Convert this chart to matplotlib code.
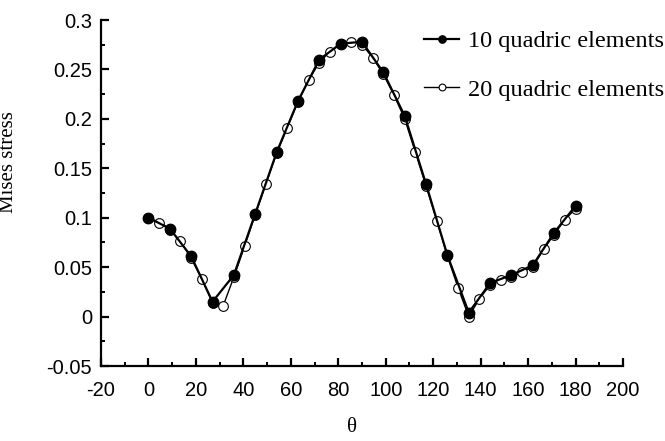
import matplotlib
matplotlib.use('Agg')
import matplotlib.pyplot as plt
from matplotlib.ticker import MultipleLocator

# ── Data ──────────────────────────────────────────────────────────────────────
theta_10 = [0, 9, 18, 27, 36, 45, 54, 63, 72, 81, 90,
            99, 108, 117, 126, 135, 144, 153, 162, 171, 180]
stress_10 = [0.100, 0.089, 0.061, 0.015, 0.042, 0.104, 0.166, 0.218, 0.260, 0.276, 0.278,
             0.247, 0.203, 0.134, 0.062, 0.004, 0.034, 0.042, 0.052, 0.085, 0.112]

theta_20 = [0, 4.5, 9, 13.5, 18, 22.5, 27, 31.5, 36, 40.5, 45, 49.5, 54, 58.5,
            63, 67.5, 72, 76.5, 81, 85.5, 90, 94.5, 99, 103.5, 108, 112.5, 117,
            121.5, 126, 130.5, 135, 139.5, 144, 148.5, 153, 157.5, 162, 166.5,
            171, 175.5, 180]
stress_20 = [0.100, 0.095, 0.088, 0.076, 0.059, 0.038, 0.014, 0.011, 0.040, 0.071,
             0.103, 0.134, 0.165, 0.191, 0.217, 0.239, 0.257, 0.268, 0.276, 0.278,
             0.275, 0.262, 0.245, 0.224, 0.200, 0.166, 0.132, 0.097, 0.061, 0.029,
             0.000, 0.018, 0.032, 0.037, 0.040, 0.045, 0.050, 0.068, 0.083, 0.098,
             0.109]

label_10 = '10 quadric elements'
label_20 = '20 quadric elements'

x_ticks = list(range(-20, 201, 20))
y_ticks = [-0.05, 0, 0.05, 0.1, 0.15, 0.2, 0.25, 0.3]
y_tick_labels = ['-0.05', '0', '0.05', '0.1', '0.15', '0.2', '0.25', '0.3']

# ── Figure ────────────────────────────────────────────────────────────────────
fig = plt.figure(figsize=(6.65, 4.41), dpi=100)
ax = fig.add_axes([101 / 665, 1 - 366 / 441, 522 / 665, 346 / 441])

ax.plot(theta_20, stress_20, '-o', color='black', linewidth=1.0,
        markersize=7, markerfacecolor='white', markeredgewidth=0.8,
        label=label_20, zorder=2)
ax.plot(theta_10, stress_10, '-o', color='black', linewidth=1.6,
        markersize=7.5, markerfacecolor='black', label=label_10, zorder=3)

ax.set_xlim(-20, 200)
ax.set_ylim(-0.05, 0.3)
ax.xaxis.set_minor_locator(MultipleLocator(10))
ax.yaxis.set_minor_locator(MultipleLocator(0.025))
ax.set_xticks(x_ticks)
ax.set_xticklabels([str(v) for v in x_ticks], fontfamily='Liberation Sans', fontsize=14.5)
ax.set_yticks(y_ticks)
ax.set_yticklabels(y_tick_labels, fontfamily='Liberation Sans', fontsize=14.5)

for s in ['top', 'right']:
    ax.spines[s].set_visible(False)
for s in ['left', 'bottom']:
    ax.spines[s].set_linewidth(1.6)

ax.tick_params(which='major', direction='in', length=6, width=1.6)
ax.tick_params(which='minor', direction='in', length=3, width=1.4)
ax.tick_params(axis='x', which='major', pad=11)
ax.tick_params(axis='y', which='major', pad=6.5)

ax.set_ylabel('Mises stress', fontfamily='Liberation Serif', fontsize=15)
ax.yaxis.set_label_coords(-0.159, 0.59)
ax.set_xlabel('θ', fontfamily='Liberation Serif', fontsize=15)
ax.xaxis.set_label_coords(0.481, -0.179)
ax.xaxis.label.set_va('center')

handles, labels = ax.get_legend_handles_labels()
ax.legend(handles[::-1], labels[::-1], loc='upper left',
          bbox_to_anchor=(412 / 665, 1 - 18 / 441), bbox_transform=fig.transFigure,
          frameon=False, prop={'family': 'Liberation Serif', 'size': 17.5},
          handlelength=1.45, handletextpad=0.37, labelspacing=1.1, borderpad=0,
          markerscale=0.7)

fig.savefig('out.png', dpi=100, facecolor='white')
